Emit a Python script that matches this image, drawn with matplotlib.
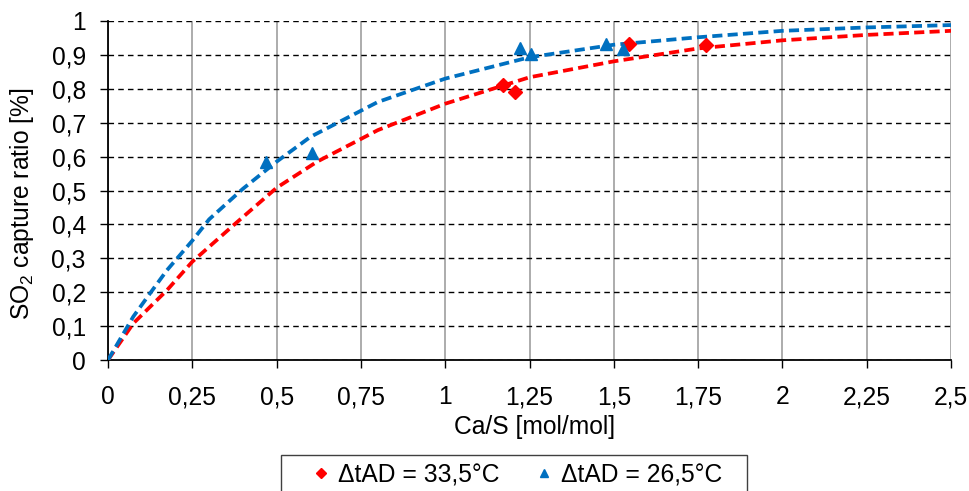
import numpy as np
import matplotlib
matplotlib.use("Agg")
from matplotlib import pyplot as plt
from matplotlib.ticker import FuncFormatter
from matplotlib.patches import Rectangle

plt.rcParams['font.family'] = ['Liberation Sans', 'DejaVu Sans']
plt.rcParams['mathtext.fontset'] = 'custom'
plt.rcParams['mathtext.rm'] = 'Liberation Sans'
plt.rcParams['mathtext.default'] = 'regular'

# measured points
red_x = [1.17, 1.207, 1.544, 1.773]
red_y = [0.811, 0.79, 0.933, 0.929]
blue_x = [0.47, 0.604, 1.222, 1.254, 1.478, 1.526]
blue_y = [0.585, 0.61, 0.92, 0.903, 0.932, 0.918]

# trend lines
blue_fx = [0, 0.075, 0.125, 0.175, 0.25, 0.3, 0.4, 0.5, 0.6, 0.8, 1.0, 1.25, 1.5, 1.75, 2.0, 2.25, 2.5]
blue_fit = [0, 0.128, 0.197, 0.265, 0.352, 0.415, 0.505, 0.585, 0.658, 0.761, 0.83, 0.893, 0.93, 0.952, 0.971, 0.981, 0.988]
red_fx = [0, 0.075, 0.175, 0.25, 0.375, 0.5, 0.62, 0.75, 0.8, 1.0, 1.25, 1.5, 1.75, 2.0, 2.25, 2.5]
red_fit = [0, 0.108, 0.206, 0.29, 0.40, 0.508, 0.585, 0.652, 0.678, 0.756, 0.834, 0.881, 0.919, 0.943, 0.959, 0.971]

red = '#FF0000'
blue = '#0070C0'
fs = 17.7

fig = plt.figure(figsize=(9.7, 4.91), dpi=100)
ax = fig.add_axes([108 / 970, 131 / 491, 843 / 970, 339 / 491])

ax.plot(red_fx, red_fit, color=red, lw=2.7, dashes=(2.7, 1.4), zorder=3)
ax.plot(blue_fx, blue_fit, color=blue, lw=2.7, dashes=(2.7, 1.4), zorder=3)
ax.plot(red_x, red_y, 'D', color=red, ms=7.5, ls='none', label='ΔtAD = 33,5°C', zorder=4)
ax.plot(blue_x, blue_y, '^', color=blue, ms=9, ls='none', label='ΔtAD = 26,5°C', zorder=4)

ax.set_xlim(0, 2.5)
ax.set_ylim(0, 1)
ax.set_xticks(np.arange(0, 2.51, 0.25))
ax.set_yticks(np.arange(0, 1.01, 0.1))
fmt = FuncFormatter(lambda v, p: ('%g' % round(v, 2)).replace('.', ','))
ax.xaxis.set_major_formatter(fmt)
ax.yaxis.set_major_formatter(fmt)

ax.xaxis.grid(True, color='#A6A6A6', lw=1.3, ls='-')
ax.yaxis.grid(True, color='black', lw=1, ls=(0, (4, 3)))
ax.set_axisbelow(True)
for s in ['top', 'right']:
    ax.spines[s].set_visible(False)
for s in ['left', 'bottom']:
    ax.spines[s].set_linewidth(1.3)
ax.tick_params(direction='out', length=6, width=1, labelsize=fs)
ax.tick_params(axis='x', pad=12)
ax.tick_params(axis='y', pad=10)

ax.set_xlabel('Ca/S [mol/mol]', fontsize=fs)
ax.set_ylabel('SO$_2$ capture ratio [%]', fontsize=fs)
ax.xaxis.set_label_coords(0.506, -0.162)
ax.yaxis.set_label_coords(-0.085, 0.46)

# legend box runs off the bottom edge like in the original
fig.patches.append(Rectangle((281 / 970, -0.05), 466 / 970, 0.05 + 36 / 491,
                             transform=fig.transFigure, fill=False,
                             edgecolor='#404040', lw=1))
fig.legend(loc='center', bbox_to_anchor=(0.534, 16 / 491), ncol=2,
           fontsize=fs, frameon=False, handlelength=0.6, handletextpad=0.4,
           columnspacing=1.5, borderpad=0, borderaxespad=0, markerscale=0.65)

fig.savefig('out.png', dpi=100)
